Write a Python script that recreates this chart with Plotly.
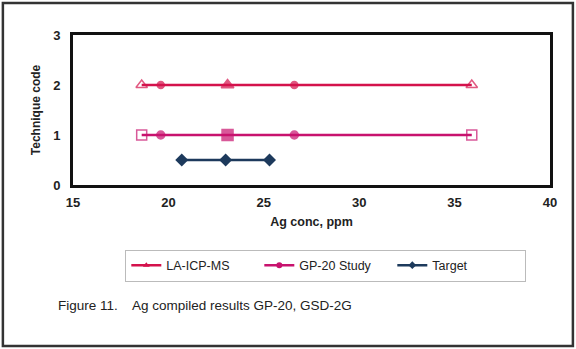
import plotly.graph_objects as go

# Ag concentrations (ppm) per technique
la_x = [18.6, 19.6, 23.1, 26.6, 35.9]
la_y = [2, 2, 2, 2, 2]
la_symbols = ["triangle-up-open", "circle", "triangle-up", "circle", "triangle-up-open"]
la_sizes = [10, 7, 11, 7, 10]

gp_x = [18.6, 19.6, 23.1, 26.6, 35.9]
gp_y = [1, 1, 1, 1, 1]
gp_symbols = ["square-open", "circle", "square", "circle", "square-open"]
gp_sizes = [10, 8, 11, 8, 10]

tg_x = [20.7, 23.0, 25.3]
tg_y = [0.5, 0.5, 0.5]

x_ticks = [15, 20, 25, 30, 35, 40]
y_ticks = [0, 1, 2, 3]

LA_COLOR = "#d4124c"
GP_COLOR = "#c8126e"
TG_COLOR = "#1d3a5c"

fig = go.Figure()

# series lines and their markers
fig.add_trace(go.Scatter(x=la_x, y=la_y, mode="lines", name="LA-ICP-MS",
                         line=dict(color=LA_COLOR, width=2.5), showlegend=False))
fig.add_trace(go.Scatter(x=la_x, y=la_y, mode="markers", name="LA-ICP-MS",
                         marker=dict(symbol=la_symbols, size=la_sizes, color=LA_COLOR,
                                     line=dict(color=LA_COLOR, width=1.5)),
                         showlegend=False))
fig.add_trace(go.Scatter(x=gp_x, y=gp_y, mode="lines", name="GP-20 Study",
                         line=dict(color=GP_COLOR, width=2.5), showlegend=False))
fig.add_trace(go.Scatter(x=gp_x, y=gp_y, mode="markers", name="GP-20 Study",
                         marker=dict(symbol=gp_symbols, size=gp_sizes, color=GP_COLOR,
                                     line=dict(color=GP_COLOR, width=1.5)),
                         showlegend=False))
fig.add_trace(go.Scatter(x=tg_x, y=tg_y, mode="lines+markers", name="Target",
                         line=dict(color=TG_COLOR, width=2.5),
                         marker=dict(symbol="diamond", size=10, color=TG_COLOR),
                         showlegend=False))

# legend-only entries
for name, color, sym in [("LA-ICP-MS", LA_COLOR, "triangle-up"),
                         ("GP-20 Study", GP_COLOR, "circle"),
                         ("Target", TG_COLOR, "diamond")]:
    fig.add_trace(go.Scatter(x=[None], y=[None], mode="lines+markers", name=name,
                             line=dict(color=color, width=2.5),
                             marker=dict(symbol=sym, size=6, color=color)))

font_family = "Liberation Sans, Arial, sans-serif"

fig.update_layout(
    width=576, height=349,
    margin=dict(l=73, r=26, t=35, b=164),
    paper_bgcolor="white", plot_bgcolor="white",
    font=dict(family=font_family, size=12, color="#222"),
    xaxis=dict(range=[15, 40], tickvals=x_ticks,
               ticktext=[f"<b>{v}</b>" for v in x_ticks],
               showgrid=False, zeroline=False,
               showline=True, linecolor="#111", linewidth=3, mirror=True,
               ticks="", ticklabelstandoff=3, tickfont=dict(size=13, color="#222"),
               title=dict(text="<b>Ag conc, ppm</b>", font=dict(size=12.5), standoff=9)),
    yaxis=dict(range=[0, 3], tickvals=y_ticks,
               ticktext=[f"<b>{v}</b>" for v in y_ticks],
               showgrid=False, zeroline=False,
               showline=True, linecolor="#111", linewidth=3, mirror=True,
               ticks="", ticklabelstandoff=7, tickfont=dict(size=13, color="#222"),
               title=dict(text="<b>Technique code</b>", font=dict(size=12), standoff=10)),
    legend=dict(orientation="h", x=0.53, y=-0.43, xanchor="center", yanchor="top",
                bordercolor="#bbbbbb", borderwidth=1, font=dict(size=12.5),
                itemwidth=30, entrywidth=88, entrywidthmode="pixels"),
)

fig.add_annotation(text="Figure 11.    Ag compiled results GP-20, GSD-2G",
                   xref="paper", yref="paper", x=-0.035, y=-0.8,
                   xanchor="left", yanchor="middle", showarrow=False,
                   font=dict(size=13.5, color="#222"))

# outer frame around the whole figure
fig.add_shape(type="rect", xref="paper", yref="paper",
              x0=-0.147, x1=1.048, y0=-1.073, y1=1.213,
              line=dict(color="#333", width=2.5))

fig.write_html("out.html")
